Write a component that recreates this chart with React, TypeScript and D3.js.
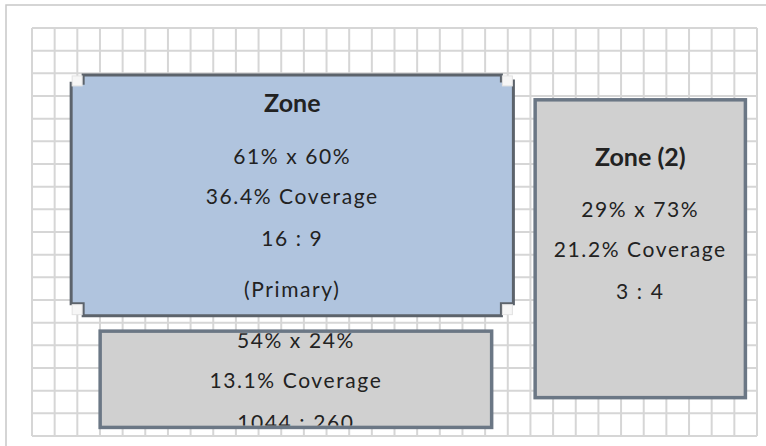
import * as d3 from 'd3'

// zone layout, in percent of the grid
const zoneNames = ['Zone', 'Zone (2)', '']
const zoneX = [5.4, 69.4, 9.4]
const zoneY = [11.5, 17.6, 74.3]
const zoneW = [61, 29, 54]
const zoneH = [59, 73, 23.6]
const zoneDims = ['61% x 60%', '29% x 73%', '54% x 24%']
const zoneCoverage = ['36.4% Coverage', '21.2% Coverage', '13.1% Coverage']
const zoneRatio = ['16 : 9', '3 : 4', '1044 : 260']
const zoneNote = ['(Primary)', '', '']
const primaryZone = 0

const GRID_COLS = 32
const GRID_ROWS = 18

const W = 766
const H = 446
const GRID = { left: 32, top: 28, right: 757, bottom: 436 }
// text rows, offset from the zone's middle
const ROW_DY = [-93, -40, 0, 42, 93]

export default function App() {
  const x = d3.scaleLinear().domain([0, 100]).range([GRID.left, GRID.right])
  const y = d3.scaleLinear().domain([0, 100]).range([GRID.top, GRID.bottom])
  const gx = d3.scaleLinear().domain([0, GRID_COLS]).range([GRID.left, GRID.right])
  const gy = d3.scaleLinear().domain([0, GRID_ROWS]).range([GRID.top, GRID.bottom])

  const zones = zoneNames.map((name, i) => ({
    name,
    x0: x(zoneX[i]),
    y0: y(zoneY[i]),
    x1: x(zoneX[i] + zoneW[i]),
    y1: y(zoneY[i] + zoneH[i]),
    lines: [name, zoneDims[i], zoneCoverage[i], zoneRatio[i], zoneNote[i]],
    primary: i === primaryZone,
  }))

  const font = 'Lato, "Open Sans", sans-serif'
  const hs = 12 // handle size

  return (
    <svg width={W} height={H} style={{ position: 'absolute', left: 0, top: 0, background: '#fff' }}>
      <defs>
        {zones.map((z, i) => (
          <clipPath key={i} id={`zclip-${i}`}>
            <rect x={z.x0 + 2} y={z.y0 + 2} width={z.x1 - z.x0 - 4} height={z.y1 - z.y0 - 4} />
          </clipPath>
        ))}
      </defs>

      {/* outer frame */}
      <rect x={6} y={5} width={W + 20} height={H + 20} fill="none" stroke="#c8c8c8" strokeWidth={1.5} />

      {/* grid */}
      <g stroke="#d6d6d6" strokeWidth={2}>
        {d3.range(GRID_COLS + 1).map(c => (
          <line key={`c${c}`} x1={gx(c)} x2={gx(c)} y1={GRID.top} y2={GRID.bottom} />
        ))}
        {d3.range(GRID_ROWS + 1).map(r => (
          <line key={`r${r}`} x1={GRID.left} x2={GRID.right} y1={gy(r)} y2={gy(r)} />
        ))}
      </g>

      {zones.map((z, i) => {
        const w = z.x1 - z.x0
        const h = z.y1 - z.y0
        const cx = (z.x0 + z.x1) / 2
        const cy = (z.y0 + z.y1) / 2
        let shape
        if (z.primary) {
          // border notched round the resize handles
          const a = z.x0, b = z.x1, t = z.y0, u = z.y1
          const pts = [
            [a + hs, t], [b - hs, t], [b - hs, t + hs * 0.5], [b, t + hs * 0.5],
            [b, u - hs], [b - hs, u - hs], [b - hs, u], [a + hs, u],
            [a + hs, u - hs], [a, u - hs], [a, t + hs * 0.7], [a + hs, t + hs * 0.7],
          ]
          shape = (
            <g>
              <path d={d3.line()(pts as [number, number][]) + 'Z'} fill="#b0c4de" stroke="#5c636b" strokeWidth={3} />
              {[[a, t], [b - hs, t], [a, u - hs], [b - hs, u - hs]].map(([hx, hy], k) => (
                <rect key={k} x={hx + 1} y={hy + 1} width={hs - 2} height={hs - 2} fill="#f6f6f6" stroke="#e2e2e2" strokeWidth={1} />
              ))}
            </g>
          )
        } else {
          shape = (
            <rect x={z.x0} y={z.y0} width={w} height={h} fill="#d0d0d0" stroke="#6b7785" strokeWidth={3.5} />
          )
        }
        return (
          <g key={i}>
            {shape}
            <g clipPath={`url(#zclip-${i})`} fill="#222" fontFamily={font} textAnchor="middle" dominantBaseline="central">
              {z.lines.map((s, k) =>
                s ? (
                  <text
                    key={k}
                    x={cx}
                    y={cy + ROW_DY[k]}
                    fontSize={k === 0 ? 25 : 21}
                    fontWeight={k === 0 ? 700 : 400}
                    letterSpacing={k === 0 ? 0 : 1.6}
                  >
                    {s}
                  </text>
                ) : null
              )}
            </g>
          </g>
        )
      })}
    </svg>
  )
}
